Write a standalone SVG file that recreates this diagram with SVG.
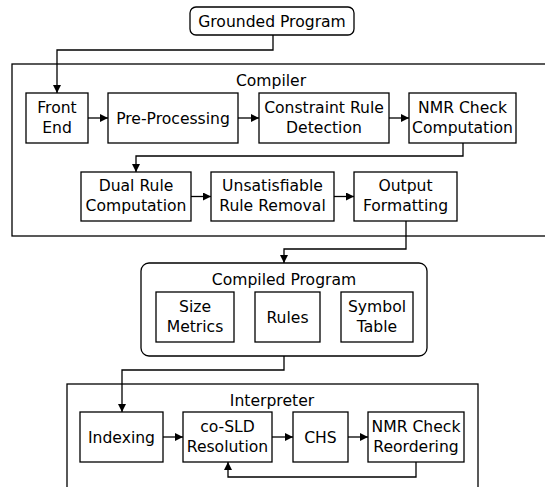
<svg xmlns="http://www.w3.org/2000/svg" width="545" height="487" viewBox="0 0 545 487">
<style>
.b{fill:#fff;stroke:#000;stroke-width:1.3}
.c{fill:none;stroke:#000;stroke-width:1.3}
text{font-family:"DejaVu Sans","Liberation Sans",sans-serif;font-size:15.6px;text-anchor:middle;fill:#000}
</style>
<defs>
<marker id="a" markerUnits="userSpaceOnUse" markerWidth="9" markerHeight="9" refX="8" refY="4" orient="auto">
<path d="M0,0 L8,4 L0,8 z" fill="#000"/>
</marker>
</defs>
<rect width="545" height="487" fill="#fff"/>
<g id="compiler">
<rect class="b" x="12" y="64" width="545" height="172"/>
<text x="271" y="86">Compiler</text>
</g>
<g id="interpreter">
<rect class="b" x="67" y="384" width="411" height="120"/>
<text x="272" y="405.5">Interpreter</text>
</g>
<g id="grounded">
<rect class="b" x="190" y="7" width="164" height="28" rx="6"/>
<text x="272" y="26.5">Grounded Program</text>
</g>
<g id="frontend">
<rect class="b" x="26" y="93" width="62" height="50"/>
<text x="57" y="112.5">Front</text><text x="57" y="132.5">End</text>
</g>
<g id="preproc">
<rect class="b" x="108" y="93" width="130" height="50"/>
<text x="173" y="123.5">Pre-Processing</text>
</g>
<g id="constraint">
<rect class="b" x="259" y="93" width="130" height="50"/>
<text x="324" y="112.5">Constraint Rule</text><text x="324" y="132.5">Detection</text>
</g>
<g id="nmrcomp">
<rect class="b" x="409" y="93" width="107" height="50"/>
<text x="462.5" y="112.5">NMR Check</text><text x="462.5" y="132.5">Computation</text>
</g>
<g id="dual">
<rect class="b" x="81" y="172" width="110" height="49"/>
<text x="136" y="191">Dual Rule</text><text x="136" y="211">Computation</text>
</g>
<g id="unsat">
<rect class="b" x="211" y="172" width="123" height="49"/>
<text x="272.5" y="191">Unsatisfiable</text><text x="272.5" y="211">Rule Removal</text>
</g>
<g id="output">
<rect class="b" x="354" y="172" width="103" height="49"/>
<text x="405.5" y="191">Output</text><text x="405.5" y="211">Formatting</text>
</g>
<g id="compiled">
<rect class="b" x="141" y="263" width="286" height="93" rx="8"/>
<text x="284" y="285">Compiled Program</text>
</g>
<g id="size">
<rect class="b" x="156" y="292" width="78" height="50"/>
<text x="195" y="311.5">Size</text><text x="195" y="331.5">Metrics</text>
</g>
<g id="rules">
<rect class="b" x="255" y="292" width="65" height="50"/>
<text x="287.5" y="322.5">Rules</text>
</g>
<g id="symbol">
<rect class="b" x="341" y="292" width="72" height="50"/>
<text x="377" y="311.5">Symbol</text><text x="377" y="331.5">Table</text>
</g>
<g id="indexing">
<rect class="b" x="80" y="412" width="83" height="50"/>
<text x="121.5" y="442.5">Indexing</text>
</g>
<g id="cosld">
<rect class="b" x="183" y="412" width="89" height="50"/>
<text x="227.5" y="431.5">co-SLD</text><text x="227.5" y="451.5">Resolution</text>
</g>
<g id="chs">
<rect class="b" x="293" y="412" width="55" height="50"/>
<text x="320.5" y="442.5">CHS</text>
</g>
<g id="nmrreorder">
<rect class="b" x="368" y="412" width="96" height="50"/>
<text x="416" y="431.5">NMR Check</text><text x="416" y="451.5">Reordering</text>
</g>
<g id="connectors" class="c">
<path class="c" d="M273,35 V50 H57 V93" marker-end="url(#a)"/>
<path class="c" d="M88,118 H108" marker-end="url(#a)"/>
<path class="c" d="M238,118 H259" marker-end="url(#a)"/>
<path class="c" d="M389,118 H409" marker-end="url(#a)"/>
<path class="c" d="M463,143 V156 H136 V172" marker-end="url(#a)"/>
<path class="c" d="M191,196.5 H211" marker-end="url(#a)"/>
<path class="c" d="M334,196.5 H354" marker-end="url(#a)"/>
<path class="c" d="M406,221 V249 H284 V263" marker-end="url(#a)"/>
<path class="c" d="M284,356 V370 H122 V412" marker-end="url(#a)"/>
<path class="c" d="M163,437 H183" marker-end="url(#a)"/>
<path class="c" d="M272,437 H293" marker-end="url(#a)"/>
<path class="c" d="M348,437 H368" marker-end="url(#a)"/>
<path class="c" d="M416,462 V477 H228 V462" marker-end="url(#a)"/>
</g>
</svg>
